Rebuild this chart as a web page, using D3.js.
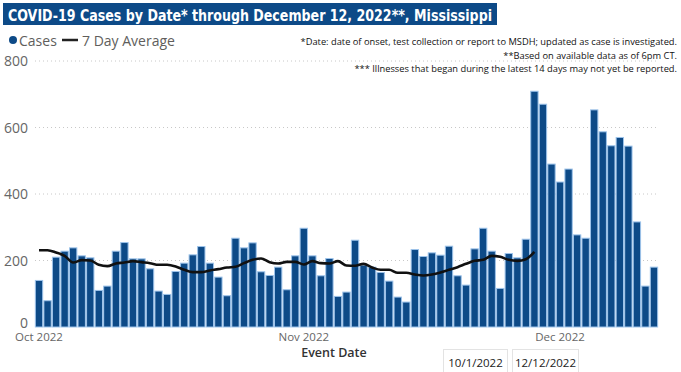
<!DOCTYPE html>
<html><head><meta charset="utf-8">
<script src="https://cdn.jsdelivr.net/npm/d3@7"></script>
<style>
html,body{margin:0;padding:0;background:#fff;}
svg{display:block;}
</style></head>
<body><svg id="c" width="681" height="372"></svg>
<script>
const startDate = "2022-10-01";
const endDate = "2022-12-12";
const cases = [140,79,210,228,238,214,208,110,123,228,254,205,205,175,108,98,167,192,217,242,192,150,94,267,238,253,166,155,180,112,214,297,214,154,206,92,105,261,186,180,164,138,90,75,233,212,223,216,243,154,126,235,297,228,116,221,208,264,709,670,490,436,475,277,267,653,587,545,570,544,316,123,180];
const avg7 = [231,231,224,214,194,201,200,187,183,191,194,198,195,192,187,187,182,172,165,165,170,174,179,181,192,202,206,195,191,196,196,188,198,192,191,198,185,184,190,179,172,172,163,163,158,155,158,164,172,180,190,199,202,214,211,202,199,204,226];
const yTicks = [0,200,400,600,800];
const xTickDates = ["2022-10-01","2022-11-01","2022-12-01"];
const titleText = "COVID-19 Cases by Date* through December 12, 2022**, Mississippi";
const notes = ["*Date: date of onset, test collection or report to MSDH; updated as case is investigated.",
  "**Based on available data as of 6pm CT.",
  "*** Illnesses that began during the latest 14 days may not yet be reported."];
const sliceLabels = ["10/1/2022","12/12/2022"];

const parse = d3.utcParse("%Y-%m-%d");
const dates = d3.utcDay.range(parse(startDate), d3.utcDay.offset(parse(endDate),1));
const svg = d3.select("#c");
const font = "'Open Sans','Noto Sans',sans-serif";

// title
const tg = svg.append("g");
tg.append("rect").attr("x",3).attr("y",3).attr("width",494).attr("height",22).attr("fill","#0d4a87");
tg.append("text").attr("x",8).attr("y",21).attr("fill","#fff")
  .attr("font-family","'DejaVu Sans Condensed','Liberation Sans Narrow',sans-serif")
  .attr("font-weight","bold")
  .attr("font-size",15).attr("textLength",484).attr("lengthAdjust","spacingAndGlyphs")
  .text(titleText);

// legend
svg.append("circle").attr("cx",13).attr("cy",40).attr("r",4).attr("fill","#0d4a87");
svg.append("text").attr("x",19).attr("y",45.5).attr("font-family",font).attr("font-size",14).attr("fill","#605e5c").text("Cases");
svg.append("line").attr("x1",62).attr("x2",78).attr("y1",40).attr("y2",40).attr("stroke","#222").attr("stroke-width",2.5);
svg.append("text").attr("x",82).attr("y",45.5).attr("font-family",font).attr("font-size",14).attr("fill","#605e5c").text("7 Day Average");

// notes
notes.forEach((n,i)=>{
  svg.append("text").attr("x",677).attr("y",45+i*13.5).attr("text-anchor","end")
    .attr("font-family",font).attr("font-size",9.3).attr("fill","#111").text(n);
});

const x = d3.scaleBand().domain(dates.map(d=>+d)).range([35,658]).paddingInner(0.14).paddingOuter(0.04);
const y = d3.scaleLinear().domain([0,800]).range([327,61]);

// grid
svg.append("g").selectAll("line").data(yTicks.filter(t=>t>0)).join("line")
  .attr("x1",35).attr("x2",658).attr("y1",d=>y(d)).attr("y2",d=>y(d))
  .attr("stroke","#c8c8c8").attr("stroke-width",1).attr("stroke-dasharray","1,3");

// y labels
svg.append("g").selectAll("text").data(yTicks).join("text")
  .attr("x",28).attr("y",d=>y(d)+ (d===0? 1:5)).attr("text-anchor","end")
  .attr("font-family",font).attr("font-size",14).attr("fill","#666").text(d=>d);

// bars
svg.append("g").selectAll("rect").data(cases).join("rect")
  .attr("x",(d,i)=>x(+dates[i])).attr("width",x.bandwidth())
  .attr("y",d=>y(d)).attr("height",d=>y(0)-y(d))
  .attr("fill","#0d4a87").attr("stroke","#9dc3ea").attr("stroke-width",1);

// line
const line = d3.line().x((d,i)=>x(+dates[i])+x.bandwidth()/2).y(d=>y(d)).curve(d3.curveMonotoneX);
svg.append("path").datum(avg7).attr("d",line).attr("fill","none").attr("stroke","#111").attr("stroke-width",2.6).attr("stroke-linejoin","round");

// x axis labels
const fmt = d3.utcFormat("%b %Y");
svg.append("g").selectAll("text").data(xTickDates.map(parse)).join("text")
  .attr("x",d=>x(+d)+x.bandwidth()/2).attr("y",340.5).attr("text-anchor","middle")
  .attr("font-family",font).attr("font-size",11.5).attr("fill","#666").text(d=>fmt(d));

svg.append("text").attr("x",334).attr("y",357).attr("text-anchor","middle")
  .attr("font-family",font).attr("font-size",12.5).attr("font-weight",600).attr("fill","#333").text("Event Date");

// slicer boxes
const bx = [443,512], bw=[64,66];
sliceLabels.forEach((s,i)=>{
  svg.append("rect").attr("x",bx[i]+0.5).attr("y",349.5).attr("width",bw[i]).attr("height",30).attr("fill","#fff").attr("stroke","#e3e3e3");
  svg.append("text").attr("x",bx[i]+bw[i]/2+0.5).attr("y",367).attr("text-anchor","middle")
    .attr("font-family",font).attr("font-size",11.5).attr("fill","#222").text(s);
});
</script></body></html>
